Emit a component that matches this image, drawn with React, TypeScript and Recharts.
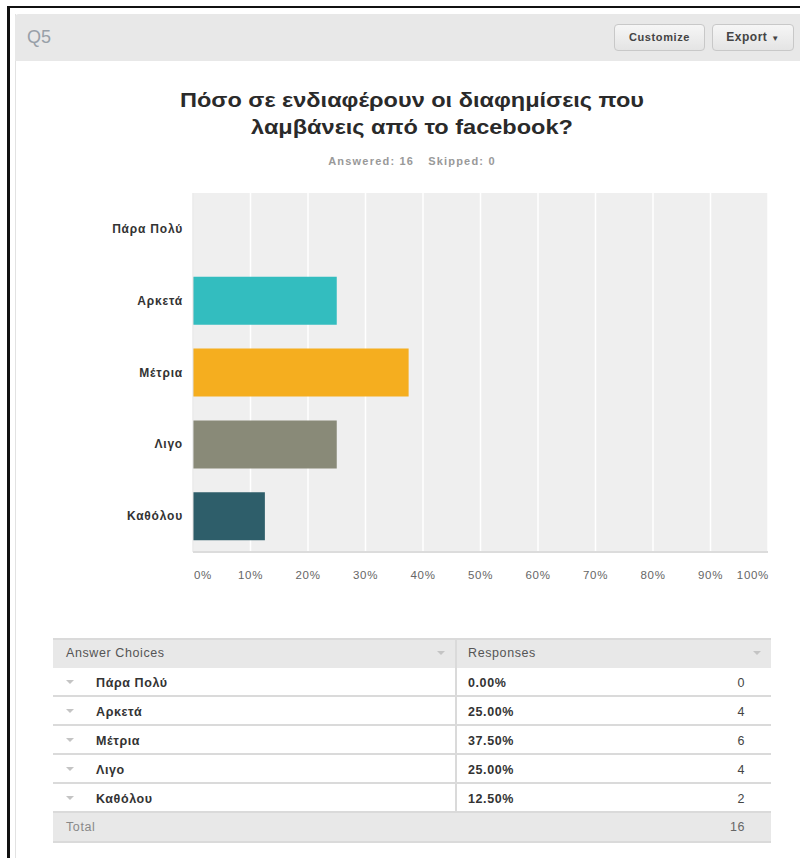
import React from 'react';
import { BarChart, Bar, XAxis, YAxis, CartesianGrid, Cell } from 'recharts';

const categories = ['Πάρα Πολύ', 'Αρκετά', 'Μέτρια', 'Λιγο', 'Καθόλου'];
const percents = [0, 25, 37.5, 25, 12.5];
const counts = [0, 4, 6, 4, 2];
const barColors = ['#2bb5b8', '#33bdbf', '#f5ae1f', '#898a78', '#2e5e6a'];
const xTicks = [0, 10, 20, 30, 40, 50, 60, 70, 80, 90, 100];
const pctLabels = ['0.00%', '25.00%', '37.50%', '25.00%', '12.50%'];
const titleLines = ['Πόσο σε ενδιαφέρουν οι διαφημίσεις που', 'λαμβάνεις από το facebook?'];
const answered = 16;
const skipped = 0;
const total = 16;

const data = categories.map((c, i) => ({ name: c, value: percents[i] }));

const FONT = 'Arial, "Liberation Sans", Helvetica, sans-serif';

const XTick = (props: any) => {
  const { x, y, payload } = props;
  const v = payload.value;
  let anchor: 'start' | 'middle' | 'end' = 'middle';
  let dx = 0;
  if (v === 0) { anchor = 'start'; dx = 1; }
  if (v === 100) { anchor = 'end'; dx = 1; }
  return (
    <text x={x + dx} y={y} dy={19} textAnchor={anchor} fill="#666" fontSize={11.5} fontFamily={FONT} letterSpacing={0.7}>
      {v + '%'}
    </text>
  );
};

const YTick = (props: any) => {
  const { x, y, payload } = props;
  return (
    <text x={x} y={y} dy={4} textAnchor="end" fill="#333" fontSize={12} fontWeight="bold" fontFamily={FONT} letterSpacing={0.8}>
      {payload.value}
    </text>
  );
};

const Tri = ({ x, y, color = '#bbb' }: { x: number; y: number; color?: string }) => (
  <div style={{ position: 'absolute', left: x, top: y, width: 0, height: 0, borderLeft: '4px solid transparent', borderRight: '4px solid transparent', borderTop: `4px solid ${color}` }} />
);

const cellText = { fontSize: 12.5, letterSpacing: 0.6 } as const;

export default function App() {
  const rowTop = 668;
  const rowH = 29;
  return (
    <div style={{ position: 'absolute', left: 0, top: 0, width: 800, height: 858, background: '#fff', overflow: 'hidden', fontFamily: FONT }}>
      {/* outer frame */}
      <div style={{ position: 'absolute', left: 7, top: 6, width: 900, height: 900, borderTop: '2px solid #111', borderLeft: '3px solid #111' }} />
      {/* panel border */}
      <div style={{ position: 'absolute', left: 15, top: 14, width: 900, height: 900, borderLeft: '1px solid #e2e2e2' }} />
      {/* header */}
      <div style={{ position: 'absolute', left: 15, top: 14, width: 800, height: 47, background: '#e8e8e8', borderTopLeftRadius: 4 }} />
      <div style={{ position: 'absolute', left: 27, top: 26, fontSize: 18, color: '#98a0a8', lineHeight: '22px' }}>Q5</div>
      <div style={{ position: 'absolute', left: 614, top: 24, width: 89, height: 25, border: '1px solid #c8c8c8', borderRadius: 4, background: 'linear-gradient(#f6f6f6,#e4e4e4)', fontSize: 11, fontWeight: 'bold', color: '#444', textAlign: 'center', lineHeight: '25px', letterSpacing: 0.6 }}>Customize</div>
      <div style={{ position: 'absolute', left: 712, top: 24, width: 80, height: 25, border: '1px solid #c8c8c8', borderRadius: 4, background: 'linear-gradient(#f6f6f6,#e4e4e4)', fontSize: 12, fontWeight: 'bold', color: '#444', textAlign: 'center', lineHeight: '25px', letterSpacing: 0.5 }}>
        Export <span style={{ fontSize: 8 }}>▼</span>
      </div>
      {/* title */}
      <div style={{ position: 'absolute', left: 112, top: 86, width: 600, textAlign: 'center', fontSize: 21, color: '#2a2a2a', lineHeight: '27px', fontWeight: 'bold', transform: 'scaleX(1.12)', transformOrigin: '300px 0' }}>
        {titleLines.map((l) => <div key={l}>{l}</div>)}
      </div>
      <div style={{ position: 'absolute', left: 112, top: 155, width: 600, textAlign: 'center', fontSize: 11, color: '#999', fontWeight: 'bold', letterSpacing: 1.2 }}>
        {'Answered: ' + answered}<span style={{ display: 'inline-block', width: 14 }} />{'Skipped: ' + skipped}
      </div>
      {/* chart */}
      <div style={{ position: 'absolute', left: 0, top: 0 }}>
        <BarChart width={800} height={600} data={data} layout="vertical" margin={{ top: 193, right: 32, bottom: 18, left: 0 }} barCategoryGap="16.7%">
          <CartesianGrid horizontal={false} vertical={true} stroke="#ffffff" strokeWidth={1.5} fill="#efefef" />
          <XAxis type="number" domain={[0, 100]} ticks={xTicks} height={30} axisLine={{ stroke: '#dcdcdc', strokeWidth: 2 }} tickLine={false} tick={<XTick />} interval={0} />
          <YAxis type="category" dataKey="name" width={193} axisLine={{ stroke: '#dedede', strokeWidth: 1 }} tickLine={false} tickMargin={4} tick={<YTick />} interval={0} />
          <Bar dataKey="value" isAnimationActive={false}>
            {data.map((d, i) => <Cell key={d.name} fill={barColors[i]} />)}
          </Bar>
        </BarChart>
      </div>
      {/* table */}
      <div style={{ position: 'absolute', left: 53, top: 638, width: 718, height: 30, background: '#e8e8e8', borderTop: '2px solid #dadada', boxSizing: 'border-box' }} />
      <div style={{ position: 'absolute', left: 66, top: 646, color: '#555', ...cellText }}>Answer Choices</div>
      <div style={{ position: 'absolute', left: 468, top: 646, color: '#555', ...cellText }}>Responses</div>
      <Tri x={437} y={651} color="#c4c4c4" />
      <Tri x={753} y={651} color="#c4c4c4" />
      <div style={{ position: 'absolute', left: 455, top: 638, width: 2, height: 175, background: '#dadada' }} />
      {categories.map((c, i) => {
        const top = rowTop + i * rowH;
        return (
          <React.Fragment key={c}>
            <div style={{ position: 'absolute', left: 53, top: top + rowH - 2, width: 718, height: 2, background: '#dadada' }} />
            <Tri x={66} y={top + 12} color="#c4c4c4" />
            <div style={{ position: 'absolute', left: 96, top: top + 8, fontWeight: 'bold', color: '#333', ...cellText }}>{c}</div>
            <div style={{ position: 'absolute', left: 468, top: top + 8, fontWeight: 'bold', color: '#333', ...cellText }}>{pctLabels[i]}</div>
            <div style={{ position: 'absolute', left: 645, width: 100, textAlign: 'right', top: top + 8, color: '#444', ...cellText }}>{counts[i]}</div>
          </React.Fragment>
        );
      })}
      <div style={{ position: 'absolute', left: 53, top: 813, width: 718, height: 30, background: '#e8e8e8', borderBottom: '2px solid #dadada', boxSizing: 'border-box' }} />
      <div style={{ position: 'absolute', left: 66, top: 820, color: '#888', ...cellText }}>Total</div>
      <div style={{ position: 'absolute', left: 645, width: 100, textAlign: 'right', top: 820, color: '#666', ...cellText }}>{total}</div>
    </div>
  );
}
